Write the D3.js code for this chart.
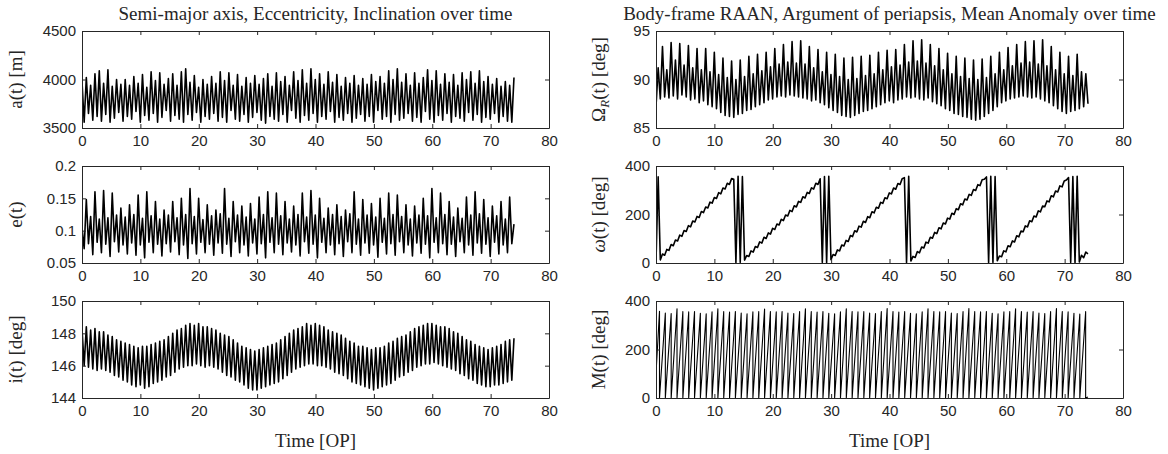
<!DOCTYPE html>
<html>
<head>
<meta charset="utf-8">
<script src="https://cdn.jsdelivr.net/npm/d3@7"></script>
<style>
  body { margin: 0; background: #fff; }
  svg { display: block; }
  .tick text { font-family: "Liberation Sans", Arial, sans-serif; font-size: 15px; fill: #262626; }
  .serif { font-family: "Liberation Serif", "Times New Roman", serif; font-size: 19px; fill: #262626; }
</style>
</head>
<body>
<svg id="chart"></svg>
<script>
// sampling step of the oscillating series, in orbital periods
const step = 0.37;

const xTicks = [0, 10, 20, 30, 40, 50, 60, 70, 80];
const aTicks = [3500, 4000, 4500];
const eTicks = [0.05, 0.1, 0.15, 0.2];
const iTicks = [144, 146, 148, 150];
const raanTicks = [85, 90, 95];
const argTicks = [0, 200, 400];
const mTicks = [0, 200, 400];

// semi-major axis [m]
const aVals = [
  3980,3560,4020,3650,3940,3580,4060,3620,4090,3570,
  3960,3640,4100,3560,3930,3600,4000,3660,3950,3570,
  4000,3620,3940,3590,4030,3670,3960,3560,4050,3630,
  3920,3580,4080,3650,3990,3560,4070,3610,3950,3680,
  4010,3570,4060,3630,3940,3590,4080,3560,4110,3640,
  3970,3580,4040,3660,3920,3560,4000,3620,3950,3590,
  4030,3650,3960,3570,4080,3610,3990,3560,4070,3680,
  3940,3590,4050,3570,3930,3640,4020,3560,3960,3610,
  4040,3660,3950,3580,4010,3550,4060,3620,3930,3590,
  4070,3570,3980,3640,4030,3560,3940,3680,4080,3600,
  3990,3560,4100,3630,3960,3580,4110,3650,4000,3560,
  4060,3620,3950,3590,4080,3670,3970,3560,4050,3610,
  3930,3580,4020,3650,3960,3560,4040,3600,3940,3640,
  4010,3570,3950,3620,4050,3560,3980,3680,4030,3590,
  3960,3620,4090,3560,4000,3640,4110,3580,3970,3600,
  4060,3650,3940,3570,4070,3610,3960,3560,4020,3670,
  4100,3590,3990,3560,4090,3630,3950,3580,4060,3650,
  3970,3560,4050,3620,3940,3600,4070,3570,4000,3660,
  4080,3580,3960,3640,4090,3560,3980,3610,4030,3590,
  3950,3650,4010,3560,3930,3620,3980,3570,3940,3560,
  4020
];

// eccentricity
const eVals = [
  0.105,0.072,0.148,0.080,0.122,0.063,0.160,0.082,0.118,0.066,
  0.162,0.079,0.120,0.060,0.158,0.083,0.124,0.067,0.135,0.078,
  0.121,0.064,0.140,0.081,0.125,0.062,0.155,0.078,0.119,0.058,
  0.160,0.082,0.123,0.066,0.145,0.079,0.118,0.061,0.132,0.080,
  0.124,0.067,0.145,0.083,0.120,0.063,0.150,0.078,0.125,0.057,
  0.165,0.080,0.122,0.064,0.150,0.082,0.117,0.066,0.140,0.079,
  0.123,0.062,0.132,0.081,0.126,0.065,0.165,0.079,0.119,0.060,
  0.145,0.083,0.124,0.066,0.138,0.078,0.121,0.061,0.142,0.081,
  0.118,0.064,0.152,0.080,0.125,0.058,0.160,0.082,0.120,0.066,
  0.158,0.079,0.123,0.063,0.145,0.081,0.118,0.067,0.138,0.078,
  0.125,0.061,0.158,0.083,0.121,0.065,0.162,0.079,0.124,0.058,
  0.150,0.082,0.119,0.066,0.135,0.078,0.125,0.063,0.140,0.080,
  0.122,0.060,0.132,0.083,0.126,0.066,0.160,0.079,0.118,0.062,
  0.148,0.081,0.124,0.065,0.142,0.078,0.121,0.059,0.150,0.082,
  0.119,0.064,0.158,0.080,0.125,0.062,0.155,0.083,0.122,0.066,
  0.140,0.078,0.118,0.061,0.138,0.081,0.124,0.065,0.150,0.079,
  0.123,0.058,0.165,0.082,0.120,0.066,0.158,0.080,0.125,0.063,
  0.145,0.079,0.121,0.060,0.135,0.083,0.119,0.066,0.152,0.078,
  0.124,0.062,0.160,0.081,0.126,0.065,0.148,0.079,0.120,0.060,
  0.138,0.082,0.123,0.064,0.145,0.078,0.118,0.066,0.152,0.080,
  0.110
];

// inclination [deg]
const iVals = [
  148.3,146.0,148.4,145.9,148.2,145.8,148.3,145.7,148.1,145.8,
  148.1,145.7,147.9,145.6,147.8,145.4,147.6,145.3,147.5,145.1,
  147.4,145.0,147.3,144.8,147.2,144.7,147.1,144.8,147.2,144.6,
  147.2,144.7,147.3,144.9,147.4,145.0,147.5,145.1,147.6,145.3,
  147.8,145.4,148.0,145.6,148.2,145.8,148.3,145.9,148.5,146.0,
  148.6,146.0,148.5,146.1,148.6,146.0,148.4,145.9,148.4,146.0,
  148.3,145.9,148.2,145.8,148.0,145.6,147.9,145.4,147.8,145.3,
  147.6,145.1,147.4,145.0,147.2,144.8,147.1,144.6,147.0,144.5,
  146.9,144.5,147.0,144.6,147.1,144.7,147.2,144.8,147.3,144.9,
  147.4,145.0,147.6,145.2,147.8,145.4,148.0,145.6,148.2,145.8,
  148.3,145.9,148.4,146.0,148.6,146.1,148.5,146.1,148.6,146.0,
  148.5,146.0,148.4,145.9,148.2,145.8,148.1,145.6,148.0,145.5,
  147.9,145.4,147.7,145.2,147.5,145.0,147.4,144.9,147.2,144.8,
  147.2,144.7,147.1,144.6,147.0,144.5,147.1,144.6,147.1,144.7,
  147.2,144.8,147.4,144.9,147.5,145.1,147.7,145.3,147.8,145.4,
  147.9,145.6,148.1,145.7,148.3,145.9,148.4,146.0,148.5,146.1,
  148.6,146.1,148.6,146.2,148.5,146.1,148.4,146.0,148.4,145.9,
  148.3,145.8,148.1,145.7,148.0,145.5,147.8,145.4,147.6,145.2,
  147.5,145.1,147.3,144.9,147.2,144.8,147.1,144.7,147.0,144.7,
  147.1,144.8,147.2,144.8,147.3,144.9,147.5,145.0,147.6,145.1,
  147.7
];

// body-frame RAAN [deg]
const raanVals = [
  87.2,91.2,88.0,93.4,88.2,91.0,88.1,93.8,88.3,92.0,
  88.0,93.7,88.4,91.5,88.2,93.5,87.9,91.2,88.0,93.2,
  87.6,91.0,87.8,93.2,87.4,90.8,87.2,92.8,87.0,90.5,
  86.6,92.2,86.3,90.2,86.2,91.9,86.1,90.0,86.4,92.0,
  86.5,90.3,86.8,92.4,86.9,90.6,87.2,92.6,87.4,90.9,
  87.6,92.8,87.9,91.3,88.0,93.2,88.2,91.6,88.3,93.6,
  88.2,91.8,88.4,93.9,88.3,91.7,88.2,94.0,88.1,91.6,
  88.0,93.4,87.8,91.2,87.9,93.1,87.6,90.8,87.4,92.8,
  87.1,90.5,86.8,92.6,86.6,90.3,86.3,92.2,86.2,90.0,
  86.1,92.3,86.3,90.1,86.5,92.4,86.7,90.4,86.8,92.5,
  87.0,90.6,87.2,92.8,87.4,91.0,87.6,93.0,87.8,91.3,
  87.6,93.1,87.9,91.5,88.0,93.6,88.2,91.8,88.1,94.0,
  88.2,91.9,88.0,94.1,87.9,91.7,88.1,93.6,87.7,91.4,
  87.5,93.2,87.3,91.0,87.0,92.7,86.8,90.6,86.5,92.4,
  86.4,90.3,86.2,92.2,86.1,90.1,85.9,92.0,85.8,90.0,
  85.9,92.1,86.2,90.2,86.5,92.4,86.8,90.6,87.2,92.8,
  87.6,91.0,87.8,93.3,88.0,91.4,88.1,93.6,88.2,91.7,
  88.3,93.9,88.2,91.8,88.1,94.0,88.2,91.6,88.0,94.1,
  87.8,91.4,87.6,93.4,87.3,91.0,87.0,92.8,86.7,90.6,
  86.5,92.4,86.7,90.4,86.8,92.6,87.0,90.8,87.2,90.6,
  87.5
];

// argument of periapsis [deg]
const argVals = [
  5,355,
  13,37,32,56,52,76,71,95,91,115,110,134,130,154,149,173,169,192,188,212,
  208,231,227,251,247,270,266,290,285,309,305,329,324,348,345,
  2,358,3,356,
  12,31,27,50,45,68,64,87,82,106,101,124,119,143,138,161,157,180,175,198,
  194,217,212,236,231,254,250,273,268,291,287,310,305,329,324,347,
  3,357,2,358,
  14,35,31,54,50,74,70,93,89,113,109,133,128,152,148,172,167,191,187,211,
  207,230,226,250,246,269,265,289,285,309,304,328,324,348,352,
  2,358,
  8,27,23,47,42,66,62,86,82,106,102,126,121,145,141,165,161,185,181,205,
  200,224,220,244,240,264,260,283,279,303,299,323,319,343,345,355,
  2,358,3,356,
  9,29,26,50,46,71,67,91,87,112,108,132,129,153,149,174,170,194,190,215,
  211,235,232,256,252,277,273,297,293,318,314,338,342,352,
  3,357,2,358,4,
  32,22,45,38
];

// mean anomaly: peak reached before each wrap, one per orbit
const mPeak = [
  358,350,348,368,356,355,357,349,347,355,
  368,356,354,357,350,347,355,356,367,357,
  355,356,350,348,356,368,356,354,357,349,
  347,355,368,357,355,356,350,348,356,369,
  357,354,356,349,347,355,368,357,355,356,
  350,348,356,369,356,355,357,349,347,355,
  356,368,357,354,356,350,348,356,369,357,
  355,349,346,356
];
const mWrap = 0.6;   // phase of the wrap inside each orbit
const mStart = 100, mEnd = 4;

const width = 1168, height = 454;
const cols = [82, 656], rows = [31, 166, 301];
const pw = 467, ph = 97;

var svg = d3.select("#chart").attr("width", width).attr("height", height);

function sampled(vals) {
  return vals.map((v, i) => [i * step, v]);
}

function anomaly() {
  const pts = [[0, mStart]];
  mPeak.forEach((p, k) => {
    pts.push([k + mWrap, p], [k + mWrap, 0]);
  });
  pts.push([74, mEnd]);
  return pts;
}

const panels = [
  { col: 0, row: 0, pts: sampled(aVals), ticks: aTicks, sw: 1.6, label: t => t.text("a(t) [m]") },
  { col: 0, row: 1, pts: sampled(eVals), ticks: eTicks, sw: 1.6, label: t => t.text("e(t)") },
  { col: 0, row: 2, pts: sampled(iVals), ticks: iTicks, sw: 1.6, label: t => t.text("i(t) [deg]") },
  { col: 1, row: 0, pts: sampled(raanVals), ticks: raanTicks, sw: 1.6, label: t => {
      t.append("tspan").text("Ω");
      t.append("tspan").attr("dy", 4).attr("font-size", 13).attr("font-style", "italic").text("R");
      t.append("tspan").attr("dy", -4).text("(t) [deg]");
  } },
  { col: 1, row: 1, pts: sampled(argVals), ticks: argTicks, sw: 1.6, label: t => {
      t.append("tspan").attr("font-style", "italic").text("ω");
      t.append("tspan").text("(t) [deg]");
  } },
  { col: 1, row: 2, pts: anomaly(), ticks: mTicks, sw: 1.1, label: t => t.text("M(t) [deg]") }
];

panels.forEach((p, n) => {
  const x0 = cols[p.col], y0 = rows[p.row];
  const x = d3.scaleLinear().domain([0, 80]).range([0, pw]);
  const y = d3.scaleLinear().domain(d3.extent(p.ticks)).range([ph, 0]);
  const g = svg.append("g").attr("transform", `translate(${x0},${y0})`);

  g.append("clipPath").attr("id", "clip" + n)
    .append("rect").attr("width", pw).attr("height", ph);

  g.append("path")
    .datum(p.pts)
    .attr("clip-path", `url(#clip${n})`)
    .attr("fill", "none")
    .attr("stroke", "#000")
    .attr("stroke-width", p.sw)
    .attr("stroke-linejoin", "round")
    .attr("d", d3.line().x(d => x(d[0])).y(d => y(d[1])));

  // box with inward ticks, MATLAB style
  const axes = [
    [d3.axisBottom(x).tickValues(xTicks).tickFormat(d => d).tickPadding(7), `translate(0,${ph})`],
    [d3.axisTop(x).tickValues(xTicks).tickFormat(""), null],
    [d3.axisLeft(y).tickValues(p.ticks).tickFormat(d => d).tickPadding(6), null],
    [d3.axisRight(y).tickValues(p.ticks).tickFormat(""), `translate(${pw},0)`]
  ];
  axes.forEach(([ax, tr]) => {
    const a = g.append("g").call(ax.tickSizeInner(-4).tickSizeOuter(0));
    if (tr) a.attr("transform", tr);
    a.select(".domain").attr("stroke", "#262626");
    a.selectAll(".tick line").attr("stroke", "#262626");
  });

  const lx = p.col === 0 ? 22 : 605;
  const lab = svg.append("text").attr("class", "serif")
    .attr("text-anchor", "middle")
    .attr("transform", `translate(${lx},${y0 + ph / 2}) rotate(-90)`);
  p.label(lab);
});

const titles = [
  "Semi-major axis, Eccentricity, Inclination over time",
  "Body-frame RAAN, Argument of periapsis, Mean Anomaly over time"
];
titles.forEach((s, c) => {
  svg.append("text").attr("class", "serif")
    .attr("x", cols[c] + pw / 2).attr("y", 20)
    .attr("text-anchor", "middle").text(s);
  svg.append("text").attr("class", "serif")
    .attr("x", cols[c] + pw / 2).attr("y", 447)
    .attr("text-anchor", "middle").text("Time [OP]");
});
</script>
</body>
</html>
